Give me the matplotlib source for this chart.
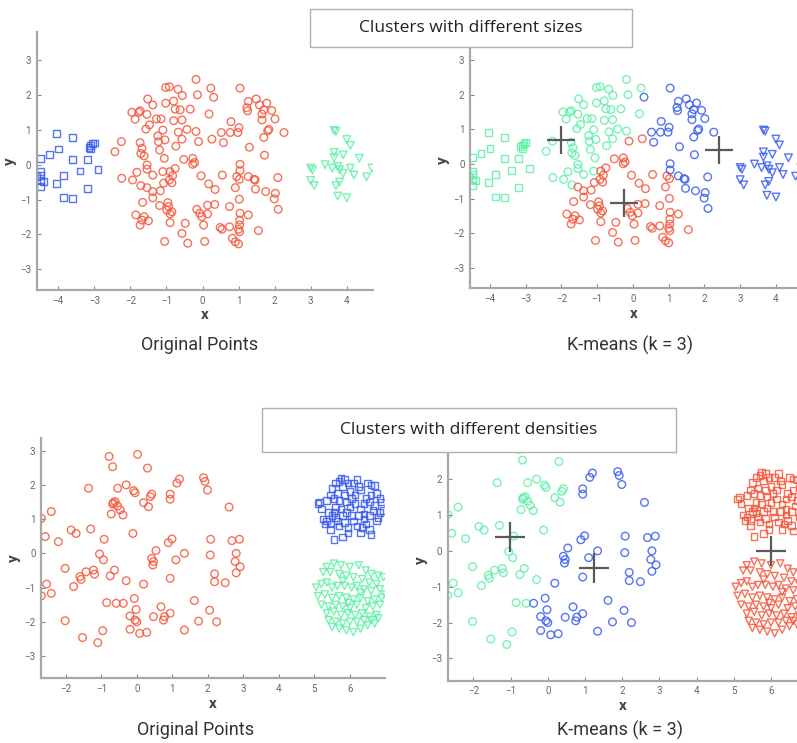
import matplotlib.pyplot as plt
import numpy as np
from matplotlib.patches import Rectangle

# ---- data: clusters with different sizes ----
sizes_blue_sq = np.array([
    (-4.05, 0.9), (-3.6, 0.77), (-4.5, 0.18), (-4.25, 0.3), (-4.0, 0.45), (-3.6, 0.15),
    (-3.2, 0.15), (-3.1, 0.55), (-3.05, 0.6), (-3.0, 0.62), (-3.15, 0.5), (-3.1, 0.45),
    (-2.9, -0.13), (-3.4, -0.18), (-3.85, -0.3), (-4.05, -0.53), (-4.4, -0.48), (-4.5, -0.3),
    (-4.6, -0.35), (-4.5, -0.2), (-4.5, -0.45), (-4.5, -0.62), (-3.85, -0.95), (-3.6, -0.97),
    (-3.2, -0.68),
])
sizes_green_tri = np.array([
    (3.65, 0.98), (3.7, 0.95), (4.0, 0.72), (4.1, 0.55), (3.65, 0.35), (3.65, 0.2), (3.9, 0.28),
    (4.35, 0.18), (3.0, -0.1), (3.05, -0.15), (3.4, 0.0), (3.6, -0.1), (3.75, -0.05),
    (3.8, -0.15), (4.1, -0.1), (4.2, -0.3), (3.9, -0.25), (4.7, -0.1), (4.55, -0.35),
    (3.0, -0.45), (3.1, -0.6), (3.8, -0.5), (3.7, -0.6), (3.75, -0.9), (4.0, -0.95),
])
sizes_red_circ = np.array([
    (-0.18, 2.44), (1.04, 2.19), (-1.02, 2.21), (-0.92, 2.23), (-0.68, 2.16), (0.23, 2.19),
    (-0.56, 1.98), (-0.14, 2.0), (0.31, 1.93), (-1.52, 1.88), (-1.38, 1.71), (-1.02, 1.76),
    (-0.80, 1.82), (-0.76, 1.59), (-0.62, 1.57), (-0.34, 1.59), (-1.96, 1.50), (-1.87, 1.30),
    (-1.73, 1.54), (-1.77, 1.50), (-1.54, 1.44), (0.18, 1.45), (1.49, 1.88), (1.27, 1.81),
    (1.23, 1.63), (1.25, 1.54), (1.58, 1.71), (1.78, 1.76), (1.92, 1.55), (1.65, 1.45),
    (1.70, 1.57), (1.65, 1.28), (2.01, 1.31), (-1.28, 1.31), (-1.15, 1.31), (-0.80, 1.26),
    (-0.57, 1.28), (-1.47, 1.14), (-1.57, 1.02), (-1.10, 0.99), (-0.43, 1.01), (-0.67, 0.93),
    (-0.18, 0.95), (0.79, 1.23), (1.01, 1.06), (0.52, 0.92), (0.77, 0.92), (0.98, 0.92),
    (1.84, 1.01), (1.81, 0.97), (2.26, 0.92), (1.70, 0.78), (-1.24, 0.82), (-1.04, 0.71),
    (-1.22, 0.66), (-0.57, 0.73), (-0.11, 0.66), (0.26, 0.73), (0.58, 0.63), (-2.25, 0.66),
    (-2.43, 0.37), (-1.73, 0.63), (-1.68, 0.47), (-1.71, 0.32), (-1.62, 0.25), (-1.19, 0.42),
    (-0.74, 0.53), (1.30, 0.50), (1.72, 0.27), (-1.06, 0.18), (-0.52, 0.15), (-0.27, 0.18),
    (-0.22, 0.06), (-0.27, 0.01), (-1.54, -0.01), (-1.54, -0.13), (-1.38, -0.30), (-0.76, -0.11),
    (-1.10, -0.20), (-0.90, -0.20), (-0.83, -0.32), (-0.92, -0.44), (-0.04, -0.32), (0.55, -0.30),
    (1.04, 0.01), (1.04, -0.17), (0.95, -0.34), (1.02, -0.42), (1.27, -0.34), (1.46, -0.44),
    (1.43, -0.42), (2.09, -0.37), (-2.24, -0.39), (-1.94, -0.44), (-1.82, -0.22), (-1.71, -0.60),
    (-1.54, -0.66), (-1.38, -0.77), (-1.38, -0.95), (-1.17, -0.75), (-1.08, -0.53), (-0.85, -0.52),
    (0.17, -0.55), (0.35, -0.71), (0.91, -0.66), (1.47, -0.70), (1.75, -0.77), (2.02, -0.82),
    (1.99, -0.98), (1.02, -0.99), (-1.66, -1.08), (-1.19, -1.17), (-0.96, -1.09), (-0.94, -1.20),
    (-0.99, -1.30), (-0.90, -1.41), (-0.85, -1.35), (0.14, -1.16), (0.34, -1.14), (0.75, -1.20),
    (1.04, -1.39), (1.27, -1.44), (2.10, -1.28), (-0.16, -1.28), (-0.08, -1.39), (-0.02, -1.49),
    (0.14, -1.41), (-1.85, -1.44), (-1.68, -1.59), (-1.62, -1.49), (-1.73, -1.73), (-1.50, -1.61),
    (1.03, -1.59), (1.03, -1.73), (1.00, -1.85), (1.03, -1.92), (-0.90, -1.66), (-0.48, -1.68),
    (0.03, -1.73), (0.49, -1.80), (0.54, -1.85), (0.75, -1.78), (1.55, -1.89), (-0.57, -1.97),
    (-1.05, -2.20), (-0.41, -2.25), (0.06, -2.20), (0.83, -2.11), (0.91, -2.21), (1.00, -2.27),
])
sizes_centers = np.array([(-2.01, 0.68), (-0.24, -1.13), (2.41, 0.41)])

# ---- data: clusters with different densities ----
dens_red_circ = np.array([
    (-0.78, 2.83), (-0.68, 2.53), (0.02, 2.89), (0.30, 2.49), (-1.36, 1.90), (-0.54, 1.90),
    (-0.30, 2.00), (-0.09, 1.83), (-0.05, 1.77), (1.13, 2.05), (1.20, 2.17), (1.88, 2.21),
    (1.92, 2.10), (1.99, 1.85), (0.42, 1.73), (0.38, 1.66), (0.94, 1.73), (0.94, 1.58),
    (-0.66, 1.48), (-0.61, 1.51), (-0.68, 1.44), (-0.54, 1.38), (-0.47, 1.27), (-0.39, 1.12),
    (-0.72, 1.15), (0.19, 1.48), (0.33, 1.36), (2.60, 1.35), (-2.41, 1.22), (-2.69, 1.02),
    (-1.85, 0.68), (-1.71, 0.58), (-1.30, 0.71), (-2.58, 0.49), (-2.21, 0.34), (-0.92, 0.41),
    (-0.11, 0.58), (0.89, 0.31), (0.99, 0.42), (2.08, 0.41), (2.68, 0.37), (2.89, 0.41),
    (-1.05, -0.02), (-0.94, -0.19), (0.54, 0.08), (0.42, -0.15), (0.47, -0.24), (0.45, -0.34),
    (1.10, -0.19), (1.34, 0.00), (2.07, -0.05), (2.80, 0.00), (2.77, -0.24), (2.91, -0.39),
    (2.80, -0.57), (-2.02, -0.44), (-1.60, -0.68), (-1.57, -0.76), (-1.43, -0.54), (-1.22, -0.49),
    (-1.19, -0.61), (-0.75, -0.66), (-0.63, -0.49), (-0.30, -0.80), (0.19, -0.90), (0.94, -0.73),
    (2.19, -0.60), (2.19, -0.83), (2.49, -0.86), (-2.54, -0.90), (-1.78, -0.97), (-2.41, -1.17),
    (-2.69, -1.24), (-0.85, -1.44), (-0.58, -1.46), (-0.38, -1.46), (-0.07, -1.32), (-0.02, -1.64),
    (-0.19, -1.83), (-0.05, -1.95), (0.00, -2.00), (0.47, -1.85), (0.68, -1.56), (0.78, -1.85),
    (0.75, -1.95), (0.94, -1.75), (1.62, -1.38), (2.05, -1.66), (1.74, -1.98), (2.25, -2.00),
    (-2.02, -1.97), (-0.19, -2.22), (0.08, -2.34), (0.28, -2.31), (1.34, -2.24), (-0.96, -2.26),
    (-1.53, -2.46), (-1.10, -2.61),
])
dens_blue_sq = np.array([
    (5.1, 1.45), (5.15, 1.5), (5.25, 1.0), (5.3, 0.85), (5.35, 0.95), (5.45, 0.7), (5.55, 0.4),
    (5.8, 0.48), (5.2, 1.3), (5.4, 1.2), (5.45, 1.7), (5.5, 1.9), (5.6, 2.05), (5.7, 2.1),
    (5.75, 2.2), (5.85, 2.15), (5.8, 1.95), (5.95, 2.05), (6.1, 2.05), (6.25, 1.95), (6.5, 2.05),
    (6.6, 2.0), (6.7, 1.98), (5.55, 1.6), (5.65, 1.75), (5.7, 1.55), (5.85, 1.7), (6.0, 1.8),
    (6.15, 1.7), (6.3, 1.85), (6.45, 1.6), (6.6, 1.7), (6.75, 1.75), (6.9, 1.5), (6.95, 1.25),
    (6.85, 1.2), (6.8, 1.05), (6.75, 0.95), (6.55, 1.1), (6.4, 1.15), (6.3, 1.3), (6.15, 1.45),
    (6.0, 1.35), (5.9, 1.2), (5.75, 1.3), (5.6, 1.35), (5.5, 1.1), (5.65, 0.95), (5.7, 0.8),
    (5.85, 0.9), (5.95, 0.75), (6.1, 0.95), (6.2, 0.8), (6.35, 0.75), (6.45, 0.85), (6.55, 0.7),
    (6.6, 0.55), (6.4, 1.0), (6.25, 1.1), (6.05, 1.1), (5.9, 1.5), (5.55, 1.2), (6.7, 1.4),
    (6.55, 1.5), (6.4, 1.45), (5.35, 1.55), (5.45, 0.85), (6.85, 1.6), (6.2, 2.15), (5.95, 0.6),
    (6.3, 0.6), (5.6, 1.05), (6.05, 1.6), (6.65, 1.25), (5.8, 1.1),
])
dens_green_tri = np.array([
    (5.35, -0.4), (5.55, -0.3), (5.75, -0.35), (6.0, -0.4), (6.25, -0.35), (6.45, -0.5),
    (6.6, -0.6), (6.8, -0.65), (6.95, -0.7), (5.25, -0.55), (5.45, -0.55), (5.7, -0.6),
    (5.9, -0.65), (6.1, -0.7), (6.35, -0.75), (6.55, -0.85), (6.75, -0.9), (5.05, -1.0),
    (5.2, -0.9), (5.35, -0.85), (5.5, -1.0), (5.65, -0.95), (5.85, -0.95), (6.05, -1.0),
    (6.2, -0.95), (6.4, -1.05), (6.6, -1.1), (6.85, -1.05), (7.0, -1.2), (5.1, -1.25),
    (5.3, -1.2), (5.5, -1.3), (5.7, -1.25), (5.9, -1.3), (6.1, -1.35), (6.3, -1.3), (6.5, -1.4),
    (6.7, -1.35), (6.9, -1.3), (7.1, -1.25), (5.2, -1.5), (5.4, -1.55), (5.6, -1.5), (5.8, -1.55),
    (6.0, -1.6), (6.2, -1.5), (6.45, -1.6), (6.65, -1.55), (6.85, -1.5), (5.35, -1.75),
    (5.55, -1.7), (5.75, -1.8), (5.95, -1.75), (6.15, -1.8), (6.35, -1.75), (6.55, -1.85),
    (6.75, -1.8), (5.4, -1.95), (5.6, -2.0), (5.8, -2.05), (6.0, -2.0), (6.2, -2.0), (6.4, -1.95),
    (6.6, -1.95), (6.8, -1.9), (5.5, -2.15), (5.7, -2.2), (5.9, -2.25), (6.1, -2.3), (6.3, -2.2),
    (6.5, -2.1), (6.7, -2.05), (5.8, -0.8), (6.3, -1.15), (5.95, -1.45),
])
dens_centers = np.array([(-1.01, 0.39), (1.24, -0.47), (6.0, 0.0)])

RED = '#f4583c'
BLUE = '#3a5cf0'
GREEN = '#5ff0a8'
CROSS = '#5a5a5a'

plt.rcParams['font.family'] = ['Roboto', 'DejaVu Sans']


def style_axes(ax, xlim, ylim, xticks, yticks):
    ax.set_xlim(*xlim)
    ax.set_ylim(*ylim)
    ax.set_xticks(xticks)
    ax.set_yticks(yticks)
    ax.spines['top'].set_visible(False)
    ax.spines['right'].set_visible(False)
    for s in ('left', 'bottom'):
        ax.spines[s].set_color('#a8a8a8')
        ax.spines[s].set_linewidth(1.6)
    ax.tick_params(direction='in', length=3, width=0.8, color='#888888',
                   labelsize=7, labelcolor='#666666', pad=4)
    ax.set_xlabel('x', fontsize=11, fontweight='bold', color='#444444', labelpad=2)
    ax.set_ylabel('y', fontsize=11, fontweight='bold', color='#444444', labelpad=2)


def pts(ax, arr, marker, color, s=30):
    ax.scatter(arr[:, 0], arr[:, 1], s=s, marker=marker, facecolors='none',
               edgecolors=color, linewidths=1.0, alpha=0.85)


def nearest(arr, centers):
    d = ((arr[:, None, :] - centers[None, :, :]) ** 2).sum(axis=2)
    return d.argmin(axis=1)


fig = plt.figure(figsize=(7.97, 7.43), dpi=100)

# top-left: original points, different sizes
ax1 = fig.add_axes([0.0460, 0.6097, 0.4216, 0.3468])
pts(ax1, sizes_red_circ, 'o', RED)
pts(ax1, sizes_blue_sq, 's', BLUE, s=24)
pts(ax1, sizes_green_tri, 'v', GREEN)
style_axes(ax1, (-4.6, 4.72), (-3.59, 3.79), range(-4, 5), range(-3, 4))

# top-right: k-means, different sizes
ax2 = fig.add_axes([0.5897, 0.6120, 0.4103, 0.3446])
km_cols = np.array([GREEN, RED, BLUE])
for arr, mk, sz in ((sizes_red_circ, 'o', 30), (sizes_blue_sq, 's', 24), (sizes_green_tri, 'v', 30)):
    lab = nearest(arr, sizes_centers)
    for k in range(3):
        sel = arr[lab == k]
        if len(sel):
            pts(ax2, sel, mk, km_cols[k], s=sz)
ax2.plot(sizes_centers[:, 0], sizes_centers[:, 1], '+', color=CROSS, ms=20, mew=1.6)
style_axes(ax2, (-4.56, 4.59), (-3.58, 3.80), range(-4, 5), range(-3, 4))

# bottom-left: original points, different densities
ax3 = fig.add_axes([0.0514, 0.0871, 0.4316, 0.3230])
pts(ax3, dens_red_circ, 'o', RED)
pts(ax3, dens_blue_sq, 's', BLUE, s=22)
pts(ax3, dens_green_tri, 'v', GREEN, s=26)
style_axes(ax3, (-2.70, 6.99), (-3.65, 3.36), range(-2, 7), range(-3, 4))

# bottom-right: k-means, different densities
ax4 = fig.add_axes([0.5617, 0.0838, 0.4383, 0.3240])
km_cols2 = np.array([GREEN, BLUE, RED])
for arr, mk, sz in ((dens_red_circ, 'o', 30), (dens_blue_sq, 's', 22), (dens_green_tri, 'v', 26)):
    lab = nearest(arr, dens_centers)
    for k in range(3):
        sel = arr[lab == k]
        if len(sel):
            pts(ax4, sel, mk, km_cols2[k], s=sz)
ax4.plot(dens_centers[:, 0], dens_centers[:, 1], '+', color=CROSS, ms=22, mew=1.6)
style_axes(ax4, (-2.69, 6.70), (-3.62, 3.09), range(-2, 7), range(-3, 4))

# captions under panels
cap = dict(fontsize=13, color='#333333', ha='center', va='center')
fig.text(200 / 797, 1 - 345 / 743, 'Original Points', **cap)
fig.text(630 / 797, 1 - 345 / 743, 'K-means (k = 3)', **cap)
fig.text(196 / 797, 1 - 730 / 743, 'Original Points', **cap)
fig.text(620 / 797, 1 - 730 / 743, 'K-means (k = 3)', **cap)

# title boxes
def title_box(x0, y0, x1, y1, text):
    rect = Rectangle((x0 / 797, 1 - y1 / 743), (x1 - x0) / 797, (y1 - y0) / 743,
                     transform=fig.transFigure, facecolor='white', edgecolor='#b0b0b0',
                     linewidth=1.0, zorder=10)
    fig.patches.append(rect)
    fig.text((x0 + x1) / 2 / 797, 1 - (y0 + y1) / 2 / 743, text, fontsize=12.5,
             family=['Open Sans', 'DejaVu Sans'], color='#222222',
             ha='center', va='center', zorder=11)


title_box(310, 9, 632, 47, 'Clusters with different sizes')
title_box(262, 408, 676, 452, 'Clusters with different densities')

fig.savefig('out.png', dpi=100, facecolor='white')
